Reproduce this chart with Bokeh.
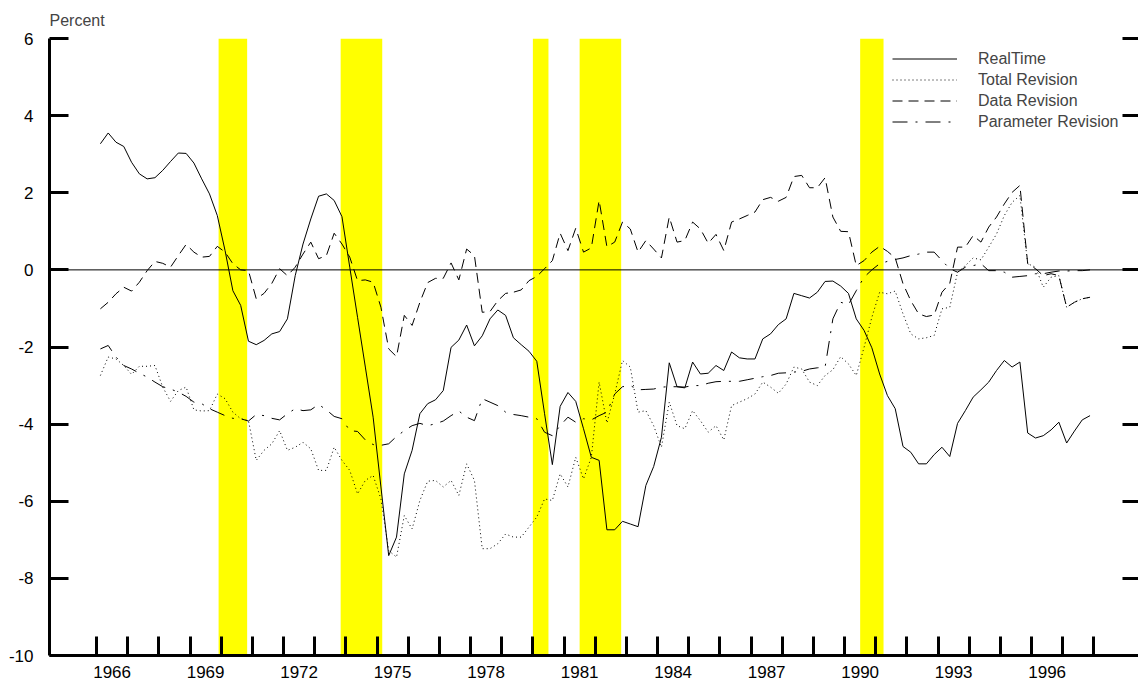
from bokeh.plotting import figure
from bokeh.models import (Range1d, FixedTicker, LinearAxis, BoxAnnotation, Span,
                          Legend, LegendItem)
from bokeh.embed import file_html
from bokeh.resources import INLINE

FONT = "Liberation Sans"

# ---------------- data (quarterly, 1966Q1 .. 1997Q4) ----------------
start_year = 1966
n_quarters = 128

real_time = [
    3.27, 3.55, 3.31, 3.20, 2.79, 2.49, 2.36, 2.39, 2.58, 2.81, 3.03, 3.02, 2.77, 2.36, 1.97, 1.41, 0.50, -0.54, -0.92, -1.85, -1.94,
    -1.83, -1.66, -1.60, -1.27, -0.15, 0.67, 1.32, 1.91, 1.97, 1.80, 1.38, 0.07, -1.23, -2.52, -3.82, -5.63, -7.41, -6.93, -5.29, -4.68, -3.73, -3.47,
    -3.37, -3.13, -2.01, -1.82, -1.43, -1.97, -1.71, -1.27, -1.04, -1.18, -1.76, -1.94, -2.11, -2.37, -3.73, -5.05, -3.54, -3.18, -3.41, -4.12, -4.86,
    -4.94, -6.74, -6.74, -6.52, -6.59, -6.66, -5.59, -5.10, -4.34, -2.41, -3.03, -3.06, -2.39, -2.70, -2.68, -2.48, -2.61, -2.13, -2.28, -2.31, -2.31, -1.79,
    -1.66, -1.42, -1.27, -0.61, -0.67, -0.73, -0.58, -0.30, -0.29, -0.42, -0.61, -1.27, -1.57, -2.02, -2.70, -3.26, -3.60, -4.58, -4.73, -5.03, -5.03,
    -4.79, -4.60, -4.84, -3.98, -3.65, -3.30, -3.11, -2.91, -2.61, -2.35, -2.52, -2.39, -4.23, -4.36, -4.30, -4.15, -3.95, -4.49, -4.18, -3.89, -3.78,
]

total_revision = [
    -2.74, -2.26, -2.31, -2.48, -2.71, -2.50, -2.50, -2.48, -3.04, -3.41, -3.13, -3.04, -3.63, -3.66, -3.65, -3.22, -3.34, -3.69, -3.86, -3.91, -4.94,
    -4.68, -4.51, -4.17, -4.68, -4.60, -4.47, -4.64, -5.20, -5.20, -4.60, -4.94, -5.20, -5.81, -5.46, -5.33, -5.94, -7.28, -7.45, -6.37, -6.72, -5.98, -5.48,
    -5.46, -5.63, -5.46, -5.85, -5.03, -5.46, -7.23, -7.23, -7.10, -6.85, -6.93, -6.93, -6.67, -6.41, -5.94, -5.98, -5.29, -5.63, -4.86, -5.42, -4.86,
    -2.91, -3.97, -3.22, -2.35, -2.52, -3.69, -3.65, -4.04, -4.60, -3.43, -4.04, -4.12, -3.65, -3.91, -4.21, -4.04, -4.41, -3.52, -3.43, -3.34, -3.22, -2.91,
    -3.04, -3.20, -2.96, -2.52, -2.57, -2.91, -3.00, -2.74, -2.59, -2.25, -2.44, -2.74, -2.01, -1.23, -0.58, -0.62, -0.55, -1.14, -1.66, -1.79, -1.76,
    -1.70, -1.01, -0.97, -0.06, 0.11, 0.31, 0.26, 0.59, 0.93, 1.41, 1.75, 1.93, 0.16, 0.07, -0.45, -0.19, -0.15, -0.97, -0.84, -0.75, -0.71,
]

data_revision = [
    -1.01, -0.84, -0.62, -0.45, -0.55, -0.32, -0.02, 0.22, 0.17, 0.07, 0.37, 0.66, 0.46, 0.33, 0.35, 0.61, 0.46, 0.16, 0.00, -0.02, -0.75,
    -0.61, -0.35, 0.03, -0.15, 0.07, 0.41, 0.72, 0.29, 0.37, 0.95, 0.67, 0.33, -0.28, -0.26, -0.32, -0.97, -2.05, -2.25, -1.18, -1.44, -0.84, -0.33,
    -0.22, -0.22, 0.18, -0.26, 0.54, 0.37, -1.10, -1.08, -0.80, -0.61, -0.58, -0.52, -0.28, -0.17, 0.03, 0.24, 0.95, 0.50, 1.08, 0.46, 0.57,
    1.80, 0.60, 0.72, 1.24, 1.06, 0.46, 0.76, 0.54, 0.31, 1.37, 0.72, 0.76, 1.24, 1.06, 0.69, 0.92, 0.50, 1.24, 1.32, 1.41, 1.50, 1.82,
    1.88, 1.78, 1.88, 2.42, 2.45, 2.13, 2.13, 2.39, 1.37, 1.00, 0.99, 0.11, 0.24, 0.46, 0.61, 0.48, 0.31, -0.36, -0.80, -1.14, -1.21,
    -1.17, -0.58, -0.35, 0.59, 0.59, 0.89, 0.72, 1.11, 1.37, 1.71, 2.01, 2.19, 0.16, 0.03, -0.15, -0.10, -0.15, -0.97, -0.84, -0.75, -0.71,
]

parameter_revision = [
    -2.05, -1.96, -2.26, -2.48, -2.57, -2.68, -2.78, -2.91, -3.03, -3.09, -3.17, -3.28, -3.43, -3.47, -3.60, -3.69, -3.78, -3.85, -3.86, -3.92, -3.75,
    -3.78, -3.85, -3.89, -3.73, -3.60, -3.65, -3.63, -3.49, -3.63, -3.80, -3.86, -4.17, -4.19, -4.41, -4.53, -4.55, -4.51, -4.32, -4.17, -4.04, -3.98, -4.04,
    -3.99, -3.92, -3.78, -3.66, -3.82, -3.91, -3.34, -3.43, -3.52, -3.69, -3.75, -3.78, -3.82, -3.86, -4.21, -4.30, -4.04, -3.82, -3.95, -3.86, -3.89,
    -3.78, -3.69, -3.22, -3.03, -3.00, -3.11, -3.10, -3.09, -3.04, -3.03, -3.03, -3.04, -3.00, -3.00, -2.94, -2.90, -2.89, -2.89, -2.89, -2.85, -2.81, -2.77,
    -2.74, -2.68, -2.67, -2.65, -2.63, -2.57, -2.54, -2.52, -1.27, -0.84, -0.90, -0.54, -0.19, 0.00, 0.16, 0.22, 0.27, 0.31, 0.37, 0.41, 0.46,
    0.46, 0.24, 0.03, -0.06, 0.07, 0.11, 0.16, -0.02, -0.02, -0.06, -0.19, -0.17, -0.15, -0.10, -0.10, -0.06, -0.03, -0.03, -0.02, -0.02, 0.00,
]

# recessions (peak, trough) as fractional years
recession_start = [1969.917, 1973.833, 1980.0, 1981.5, 1990.5]
recession_end = [1970.833, 1975.167, 1980.5, 1982.833, 1991.25]

year_ticks = list(range(1966, 1999))
year_labels = ["1966", "1969", "1972", "1975", "1978", "1981", "1984", "1987", "1990", "1993", "1996"]
y_ticks = [-10, -8, -6, -4, -2, 0, 2, 4, 6]
y_labels = ["-10", "-8", "-6", "-4", "-2", "0", "2", "4", "6"]

series_names = ["RealTime", "Total Revision", "Data Revision", "Parameter Revision"]
unit_label = "Percent"

# quarter mid-points
x = [start_year + (i + 0.5) / 4 for i in range(n_quarters)]

# ---------------- figure ----------------
p = figure(width=1138, height=688, output_backend="svg", toolbar_location=None,
           x_range=Range1d(1964.492, 1999.43), y_range=Range1d(-10, 6),
           x_axis_type=None, y_axis_type=None,
           min_border_left=49, min_border_right=0, min_border_top=38, min_border_bottom=33)
p.outline_line_color = None
p.background_fill_color = "white"
p.border_fill_color = "white"

p.title.text = unit_label
p.title.text_font = FONT
p.title.text_font_size = "16px"
p.title.text_font_style = "normal"
p.title.align = "left"
p.title.vertical_align = "top"
p.title.standoff = 16

for a, b in zip(recession_start, recession_end):
    p.add_layout(BoxAnnotation(left=a, right=b, fill_color="#FFFF00", fill_alpha=1.0,
                               line_color=None, level="underlay"))

p.add_layout(Span(location=0, dimension="width", line_color="black", line_width=1))

styles = ["solid", "1 3", "10 6", "15 8 2 8"]
series = [real_time, total_revision, data_revision, parameter_revision]
renderers = []
for vals, dash in zip(series, styles):
    r = p.line(x, vals, line_color="black", line_width=1, line_dash=dash)
    renderers.append(r)

# x axis
label_pos = [int(s) + 0.5 for s in year_labels]
xa = LinearAxis(ticker=FixedTicker(ticks=label_pos, minor_ticks=year_ticks),
                major_label_overrides={pos: s for pos, s in zip(label_pos, year_labels)},
                axis_line_width=3, axis_line_color="black",
                major_tick_in=0, major_tick_out=0,
                minor_tick_in=19, minor_tick_out=0, minor_tick_line_width=3,
                minor_tick_line_color="black",
                major_label_standoff=10,
                major_label_text_font=FONT, major_label_text_font_size="17px",
                major_label_text_color="black")
p.add_layout(xa, "below")

# left y axis
ya = LinearAxis(ticker=FixedTicker(ticks=y_ticks),
                major_label_overrides={t: s for t, s in zip(y_ticks, y_labels)},
                axis_line_width=3, axis_line_color="black",
                major_tick_in=19, major_tick_out=0, major_tick_line_width=3,
                minor_tick_line_color=None,
                major_label_standoff=16,
                major_label_text_font=FONT, major_label_text_font_size="17px",
                major_label_text_color="black")
p.add_layout(ya, "left")

# right y axis (ticks only)
ra = LinearAxis(ticker=FixedTicker(ticks=y_ticks),
                major_label_overrides={t: "" for t in y_ticks},
                axis_line_color=None,
                major_tick_in=16, major_tick_out=0, major_tick_line_width=3,
                minor_tick_line_color=None,
                major_label_standoff=0, major_label_text_font_size="0px")
p.add_layout(ra, "right")

legend = Legend(items=[LegendItem(label=n, renderers=[r]) for n, r in zip(series_names, renderers)],
                location=(843, 523), padding=0, margin=0, spacing=0,
                glyph_width=65, glyph_height=21, label_height=21, label_standoff=21,
                label_text_font=FONT, label_text_font_size="16px",
                background_fill_alpha=0, border_line_alpha=0)
p.add_layout(legend)

open("out.html", "w").write(file_html(p, INLINE))
